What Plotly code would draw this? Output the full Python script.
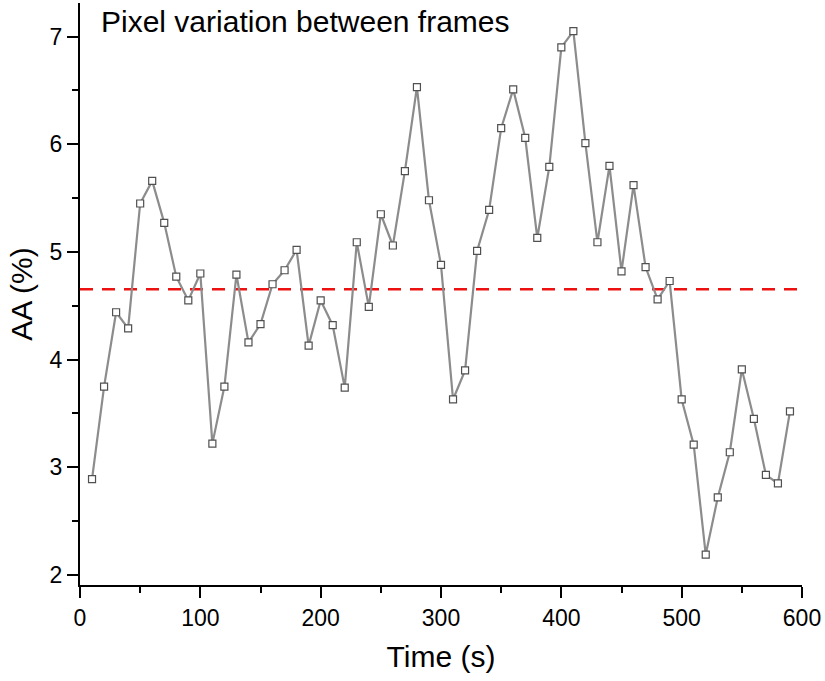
import plotly.graph_objects as go

time_s = [10, 20, 30, 40, 50, 60, 70, 80, 90, 100,
          110, 120, 130, 140, 150, 160, 170, 180, 190, 200,
          210, 220, 230, 240, 250, 260, 270, 280, 290, 300,
          310, 320, 330, 340, 350, 360, 370, 380, 390, 400,
          410, 420, 430, 440, 450, 460, 470, 480, 490, 500,
          510, 520, 530, 540, 550, 560, 570, 580, 590]
aa_pct = [2.89, 3.75, 4.44, 4.29, 5.45, 5.66, 5.27, 4.77, 4.55, 4.80,
          3.22, 3.75, 4.79, 4.16, 4.33, 4.70, 4.83, 5.02, 4.13, 4.55,
          4.32, 3.74, 5.09, 4.49, 5.35, 5.06, 5.75, 6.53, 5.48, 4.88,
          3.63, 3.90, 5.01, 5.39, 6.15, 6.51, 6.06, 5.13, 5.79, 6.90,
          7.05, 6.01, 5.09, 5.80, 4.82, 5.62, 4.86, 4.56, 4.73, 3.63,
          3.21, 2.19, 2.72, 3.14, 3.91, 3.45, 2.93, 2.85, 3.52]
mean_level = 4.654
x_range = [0, 600]
y_range = [1.907, 7.312]
title_text = "Pixel variation between frames"

FONT = "Liberation Sans, Arial, sans-serif"

fig = go.Figure()
fig.add_trace(go.Scatter(
    x=x_range, y=[mean_level, mean_level], mode="lines",
    line=dict(color="#ee1111", width=2.5, dash="13px,9px"),
    hoverinfo="skip", showlegend=False,
))
fig.add_trace(go.Scatter(
    x=time_s, y=aa_pct, mode="lines+markers",
    line=dict(color="#8c8c8c", width=2.2),
    marker=dict(symbol="square", size=7, color="white",
                line=dict(color="#505050", width=1.2)),
    showlegend=False,
))

axis_common = dict(
    showline=True, linecolor="black", linewidth=2,
    ticks="outside", ticklen=11, tickwidth=2, tickcolor="black",
    showgrid=False, zeroline=False, mirror=False,
    tickfont=dict(family=FONT, size=23, color="black"),
)

fig.update_layout(
    width=825, height=681,
    margin=dict(l=80, r=23, t=3, b=96),
    paper_bgcolor="white", plot_bgcolor="white",
    font=dict(family=FONT, color="black"),
    xaxis=dict(range=x_range, dtick=100, tick0=0,
               minor=dict(dtick=50, ticklen=6, tickwidth=2, ticks="outside", tickcolor="black"),
               title=dict(text="Time (s)", font=dict(family=FONT, size=30), standoff=16),
               **axis_common),
    yaxis=dict(range=y_range, dtick=1, tick0=0,
               minor=dict(dtick=0.5, ticklen=6, tickwidth=2, ticks="outside", tickcolor="black"),
               title=dict(text="AA (%)", font=dict(family=FONT, size=30), standoff=8),
               **axis_common),
    annotations=[dict(
        text=title_text, xref="paper", yref="paper",
        x=0.026, y=1.0, xanchor="left", yanchor="top",
        showarrow=False, font=dict(family=FONT, size=30, color="black"),
    )],
)

fig.write_html("out.html")
